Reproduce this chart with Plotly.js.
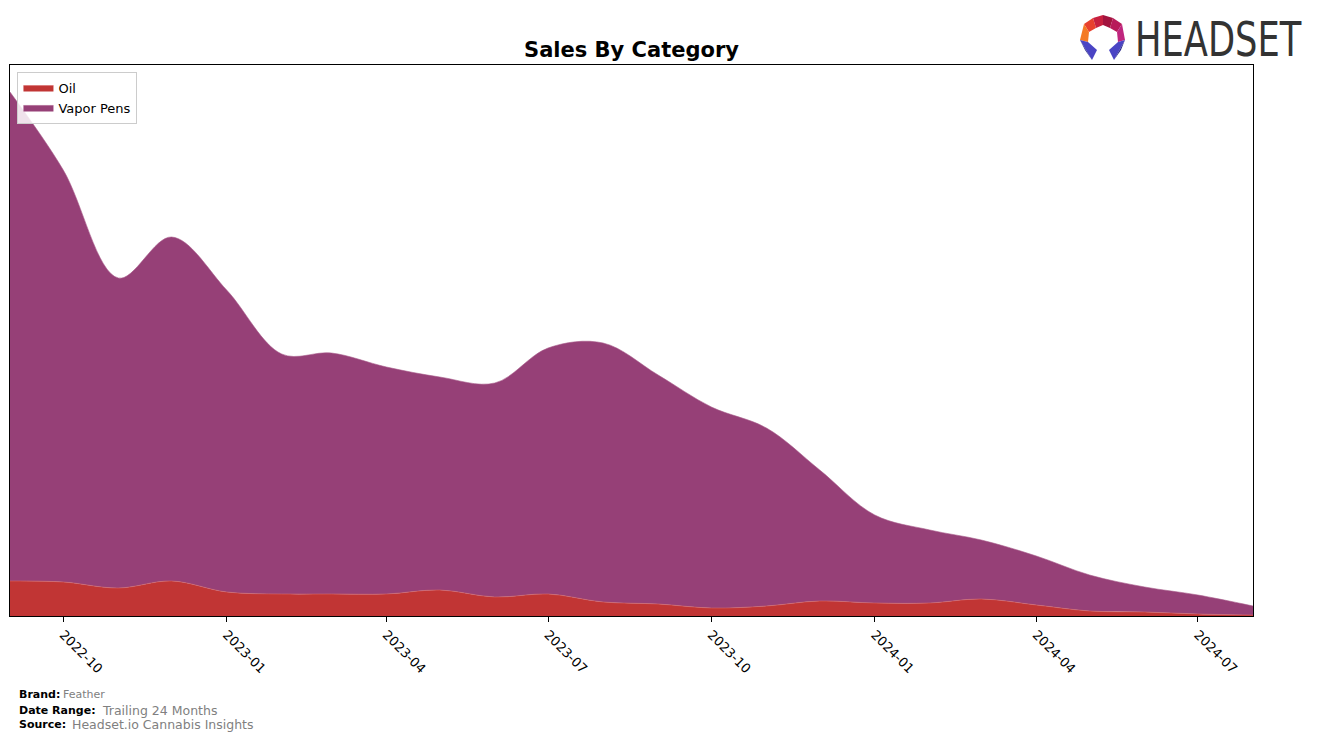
<!DOCTYPE html>
<html>
<head>
<meta charset="utf-8">
<script src="https://cdn.plot.ly/plotly-3.0.1.min.js"></script>
<style>
html,body{margin:0;padding:0;background:#fff;}
#chart{width:1317px;height:740px;position:relative;}
#logo{position:absolute;left:1075px;top:8px;width:242px;height:58px;}
</style>
</head>
<body>
<div id="chart"></div>
<svg id="logo" viewBox="1075 8 242 58" xmlns="http://www.w3.org/2000/svg">
  <polygon points="1084,24 1093,18 1096,28 1089,32" fill="#e8412e"/>
  <polygon points="1093,18 1103,15 1103,25 1096,28" fill="#c8203f"/>
  <polygon points="1103,15 1113,18 1110,28 1103,25" fill="#a3143f"/>
  <polygon points="1113,18 1122,24 1117,32 1110,28" fill="#b81a5a"/>
  <polygon points="1122,24 1125,40 1118,42 1117,32" fill="#c0267e"/>
  <polygon points="1084,24 1089,32 1088,42 1080,40" fill="#f47a24"/>
  <polygon points="1080,40 1088,42 1097,50 1092,60" fill="#4a44c4"/>
  <polygon points="1080,40 1092,60 1085,50" fill="#2a2a8a"/>
  <polygon points="1125,40 1118,42 1109,50 1114,60" fill="#4a44c4"/>
  <polygon points="1125,40 1114,60 1121,50" fill="#2a2a8a"/>
  <text transform="translate(1135,56) scale(0.735,1)" x="0" y="0" font-family="DejaVu Sans" font-size="48" fill="#333333">HEADSET</text>
</svg>
<script>
const months = ['2022-09-01','2022-10-01','2022-11-01','2022-12-01','2023-01-01','2023-02-01','2023-03-01','2023-04-01','2023-05-01','2023-06-01','2023-07-01','2023-08-01','2023-09-01','2023-10-01','2023-11-01','2023-12-01','2024-01-01','2024-02-01','2024-03-01','2024-04-01','2024-05-01','2024-06-01','2024-07-01','2024-08-01'];
const oil = [35,34,28,35,24,22,22,22,26,19,22,14,12,8,10,15,13,13,17,11,5,4,2,1];
const vaporPens = [489,412,310,344,302,240,241,227,213,214,246,259,229,201,178,131,88,73,59,49,36,25,19,9];
const tickVals = ['2022-10-01','2023-01-01','2023-04-01','2023-07-01','2023-10-01','2024-01-01','2024-04-01','2024-07-01'];
const tickText = ['2022-10','2023-01','2023-04','2023-07','2023-10','2024-01','2024-04','2024-07'];

const traces = [
  {x: months, y: oil, name: 'Oil', type: 'scatter', mode: 'lines', stackgroup: 'one',
   line: {shape: 'spline', smoothing: 1, width: 0.6, color: '#d86a6a'}, fillcolor: '#c13534'},
  {x: months, y: vaporPens, name: 'Vapor Pens', type: 'scatter', mode: 'lines', stackgroup: 'one',
   line: {shape: 'spline', smoothing: 1, width: 0.6, color: '#a85a8a'}, fillcolor: '#964077'}
];

const layout = {
  width: 1317, height: 740,
  margin: {l: 10, r: 64, t: 65, b: 124},
  paper_bgcolor: '#fff', plot_bgcolor: '#fff',
  font: {family: 'DejaVu Sans', color: '#000'},
  title: {text: '<b>Sales By Category</b>', font: {size: 21, family: 'DejaVu Sans', color: '#000'},
          x: 0.5, xref: 'paper', y: 1 - 50/740, yref: 'container', yanchor: 'middle'},
  showlegend: true,
  legend: {x: 0.006, y: 0.988, xanchor: 'left', yanchor: 'top', bgcolor: 'rgba(255,255,255,0.85)',
           bordercolor: '#cccccc', borderwidth: 1, font: {size: 13, family: 'DejaVu Sans'}, traceorder: 'normal'},
  xaxis: {type: 'date', range: ['2022-09-01','2024-08-01'], tickvals: tickVals, ticktext: tickText,
          tickangle: 45, ticks: 'outside', ticklen: 5, tickcolor: '#000', tickfont: {size: 13, family: 'DejaVu Sans'},
          showline: true, linecolor: '#000', linewidth: 1, mirror: true, showgrid: false, zeroline: false},
  yaxis: {range: [0, 551], showticklabels: false, ticks: '', showline: true, linecolor: '#000', linewidth: 1,
          mirror: true, showgrid: false, zeroline: false},
  annotations: [
    {xref:'paper', yref:'paper', x: 7/1243, y: -78/551, xanchor:'left', yanchor:'middle', showarrow:false,
     text:'<b>Brand:</b>', font:{size:11, family:'DejaVu Sans', color:'#000'}},
    {xref:'paper', yref:'paper', x: 51/1243, y: -78/551, xanchor:'left', yanchor:'middle', showarrow:false,
     text:'Feather', font:{size:11, family:'DejaVu Sans', color:'#808080'}},
    {xref:'paper', yref:'paper', x: 7/1243, y: -94/551, xanchor:'left', yanchor:'middle', showarrow:false,
     text:'<b>Date Range:</b>', font:{size:11, family:'DejaVu Sans', color:'#000'}},
    {xref:'paper', yref:'paper', x: 90/1243, y: -94/551, xanchor:'left', yanchor:'middle', showarrow:false,
     text:'Trailing 24 Months', font:{size:12.5, family:'DejaVu Sans', color:'#808080'}},
    {xref:'paper', yref:'paper', x: 7/1243, y: -108/551, xanchor:'left', yanchor:'middle', showarrow:false,
     text:'<b>Source:</b>', font:{size:11, family:'DejaVu Sans', color:'#000'}},
    {xref:'paper', yref:'paper', x: 60/1243, y: -108/551, xanchor:'left', yanchor:'middle', showarrow:false,
     text:'Headset.io Cannabis Insights', font:{size:12.5, family:'DejaVu Sans', color:'#808080'}}
  ]
};

Plotly.newPlot('chart', traces, layout, {displayModeBar: false, staticPlot: true});
</script>
</body>
</html>
